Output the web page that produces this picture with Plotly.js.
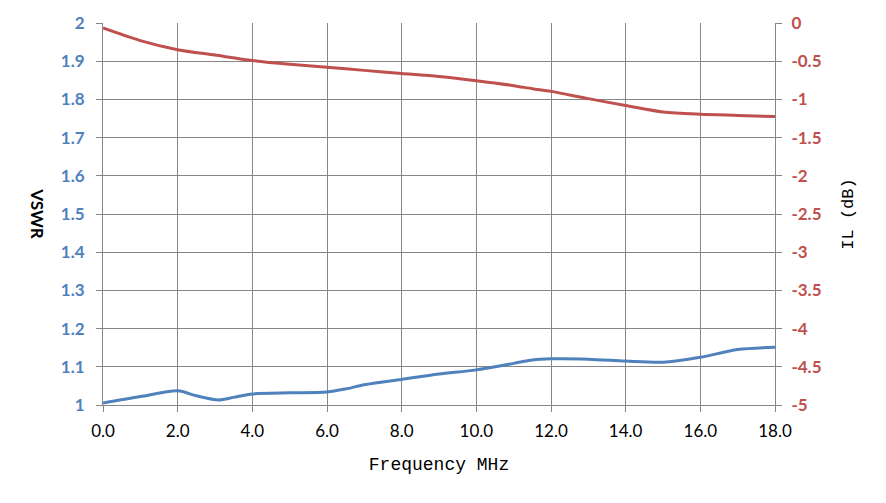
<!DOCTYPE html>
<html>
<head>
<meta charset="utf-8">
<script src="https://cdn.plot.ly/plotly-3.0.1.min.js"></script>
<style>
  html, body { margin: 0; padding: 0; background: #fff; }
  #chart { width: 886px; height: 503px; }
</style>
</head>
<body>
<div id="chart"></div>
<script>
// frequency points (MHz)
const freq = [0, 1, 2, 2.5, 3.1, 3.5, 4, 5, 6, 6.5, 7, 8, 9, 10, 11, 11.5, 12, 13, 14, 15, 16, 17, 18]
const vswr = [1.005, 1.022, 1.037, 1.024, 1.013, 1.02, 1.029, 1.032, 1.034, 1.042, 1.053, 1.067, 1.081, 1.092, 1.109, 1.118, 1.121, 1.12, 1.115, 1.112, 1.125, 1.145, 1.151]

const ilFreq = [0, 1, 2, 3, 4, 5, 6, 7, 8, 9, 10, 11, 11.5, 12, 13, 14, 15, 16, 17, 18]
const il = [-0.065, -0.23, -0.35, -0.42, -0.49, -0.54, -0.58, -0.62, -0.66, -0.7, -0.755, -0.82, -0.86, -0.895, -0.99, -1.08, -1.165, -1.195, -1.21, -1.225]

const xTicks = [0, 2, 4, 6, 8, 10, 12, 14, 16, 18]
const xTickText = ['0.0', '2.0', '4.0', '6.0', '8.0', '10.0', '12.0', '14.0', '16.0', '18.0']
const vswrTicks = [1, 1.1, 1.2, 1.3, 1.4, 1.5, 1.6, 1.7, 1.8, 1.9, 2]
const vswrTickText = ['1', '1.1', '1.2', '1.3', '1.4', '1.5', '1.6', '1.7', '1.8', '1.9', '2']
const ilTicks = [0, -0.5, -1, -1.5, -2, -2.5, -3, -3.5, -4, -4.5, -5]
const ilTickText = ['0', '-0.5', '-1', '-1.5', '-2', '-2.5', '-3', '-3.5', '-4', '-4.5', '-5']

const blue = '#4F81BD'
const red = '#C0504D'
const grid = '#868686'
const labelFont = 'Lato, "Open Sans", sans-serif'
const cjkFont = '"Liberation Mono", "DejaVu Sans Mono", monospace'

const traces = [
  {
    x: freq, y: vswr, type: 'scatter', mode: 'lines', name: 'VSWR',
    line: { color: blue, width: 3, shape: 'spline', smoothing: 0.8 },
  },
  {
    x: ilFreq, y: il, type: 'scatter', mode: 'lines', name: 'IL', yaxis: 'y2',
    line: { color: red, width: 3, shape: 'spline', smoothing: 0.8 },
  },
]

const layout = {
  width: 886,
  height: 503,
  showlegend: false,
  paper_bgcolor: '#fff',
  plot_bgcolor: '#fff',
  margin: { l: 103, r: 111, t: 23, b: 98 },
  xaxis: {
    range: [0, 18],
    tickvals: xTicks,
    ticktext: xTickText,
    ticks: 'outside', ticklen: 6, tickcolor: grid,
    ticklabelstandoff: 5,
    showgrid: true, gridcolor: grid, gridwidth: 1,
    showline: true, linecolor: grid, linewidth: 1,
    zeroline: false,
    tickfont: { family: labelFont, size: 17, color: '#000' },
    title: { text: 'Frequency MHz', font: { family: cjkFont, size: 18, color: '#000' }, standoff: 16 },
  },
  yaxis: {
    range: [1, 2],
    tickvals: vswrTicks,
    ticktext: vswrTickText,
    ticks: 'outside', ticklen: 6, tickcolor: grid,
    ticklabelstandoff: 8,
    showgrid: true, gridcolor: grid, gridwidth: 1,
    showline: true, linecolor: grid, linewidth: 1,
    zeroline: false,
    tickfont: { family: labelFont, size: 17, color: blue, weight: 'bold' },
  },
  yaxis2: {
    range: [-5, 0],
    overlaying: 'y',
    side: 'right',
    tickvals: ilTicks,
    ticktext: ilTickText,
    ticks: 'outside', ticklen: 6, tickcolor: grid,
    ticklabelstandoff: 6,
    showgrid: false,
    showline: true, linecolor: grid, linewidth: 1,
    zeroline: false,
    tickfont: { family: labelFont, size: 17, color: red, weight: 'bold' },
    title: { text: 'IL (dB)', font: { family: cjkFont, size: 17, color: '#000' }, standoff: 20 },
  },
  annotations: [
    {
      text: 'VSWR', textangle: 90, showarrow: false,
      xref: 'paper', yref: 'paper', x: -0.097, y: 0.5, xanchor: 'center', yanchor: 'middle',
      font: { family: labelFont, size: 17, color: '#000', weight: 'bold' },
    },
  ],
}

Plotly.newPlot('chart', traces, layout, { displayModeBar: false })
</script>
</body>
</html>
